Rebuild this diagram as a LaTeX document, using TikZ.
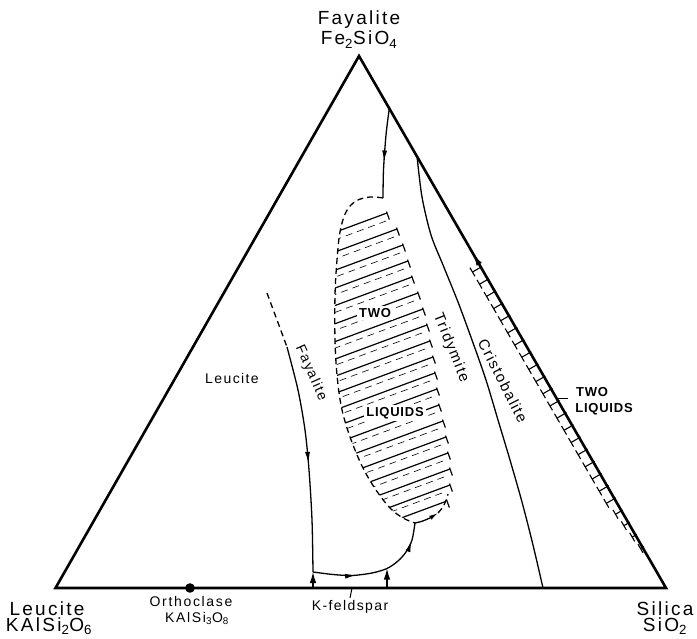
\documentclass[tikz,border=0pt]{standalone}
\usepackage{fontspec}
\setmainfont{Liberation Sans}
\newfontfamily\lab[LetterSpace=12]{Liberation Sans}
\newfontfamily\labm[LetterSpace=10]{Liberation Sans}
\newfontfamily\labb[LetterSpace=6]{Liberation Sans}
\usetikzlibrary{arrows.meta,decorations.markings,calc}
\begin{document}
\begin{tikzpicture}[x=1pt,y=-1pt,
  edgeline/.style={line width=2.6pt, line join=miter},
  bnd/.style={line width=1.3pt},
  dsh/.style={line width=1.3pt, dash pattern=on 6pt off 4pt},
  hatchl/.style={line width=1.2pt},
  faint/.style={line width=0.6pt, dash pattern=on 7pt off 5pt},
  rung/.style={line width=1.1pt},
  tip/.tip={Latex[length=11pt,width=5pt]},
  bigtip/.tip={Latex[length=11pt,width=6.5pt]},
  marrow/.style={postaction={decorate},decoration={markings,mark=at position #1 with {\arrow{tip}}}},
  big/.style={font=\lab\fontsize{19}{22}\selectfont, inner sep=0pt},
  small/.style={font=\lab\fontsize{14}{16}\selectfont, inner sep=0pt},
  med/.style={font=\labm\fontsize{14}{16}\selectfont, inner sep=1pt},
  medl/.style={font=\labm\fontsize{15}{17}\selectfont, inner sep=1pt},
  bold/.style={font=\labb\bfseries\fontsize{13}{15}\selectfont, inner sep=2pt, fill=white},
]
\useasboundingbox (0,0) rectangle (697,639);

% triangle
\coordinate (A) at (359,56);
\coordinate (L) at (55.5,588);
\coordinate (R) at (666,588);
\draw[edgeline] (A) -- (L) -- (R) -- cycle;

% corner labels
\node[big, anchor=base] (fa1) at (359,25) {Fayalite};
\node[big, anchor=base] (fa2) at (359,45) {Fe\textsubscript{2}SiO\textsubscript{4}};
\node[big, anchor=base] (le1) at (47,615) {Leucite};
\node[big, anchor=base] (le2) at (49,631) {KAlSi\textsubscript{2}O\textsubscript{6}};
\node[big, anchor=base] (si1) at (665,615) {Silica};
\node[big, anchor=base] (si2) at (665,631) {SiO\textsubscript{2}};

% orthoclase
\fill (190,588) circle (4.8pt);
\node[small, anchor=base] (or1) at (191,606) {Orthoclase};
\node[small, anchor=base] (or2) at (197,622) {KAlSi\textsubscript{3}O\textsubscript{8}};

% K-feldspar
\coordinate (kt1) at (352,588);
\coordinate (kt2) at (350,598);
\draw[line width=1pt] (kt1) -- (kt2);
\node[med] (kf) at (350,607) {K-feldspar};

% field labels
\node[med] (lc) at (232,378) {Leucite};
\node[med, rotate=-66] (fy) at (311,373) {Fayalite};
\node[medl, rotate=-68] (tr) at (451,348) {Tridymite};
\node[medl, rotate=-63] (cr) at (503,381) {Cristobalite};

% Fayalite boundary
\coordinate (F0) at (267,293);
\coordinate (F1) at (287,347);
\coordinate (J1) at (313,572);
\coordinate (B1) at (313,588);
\draw[dsh] plot[smooth] coordinates {(F0) (277,320) (F1)};
\draw[bnd, marrow=0.52] plot[smooth] coordinates {(F1) (298,390) (305,430) (309,470) (312,520) (J1)};
\draw[bnd, -{bigtip}] (B1) -- (J1);

% lower boundary
\coordinate (J2) at (387,568.5);
\coordinate (B2) at (387,588);
\coordinate (Rb) at (415,523);
\draw[bnd, postaction={decorate}, decoration={markings,
   mark=at position 0.33 with {\arrow{tip}},
   mark=at position 0.86 with {\arrow{tip}}}]
  plot[smooth] coordinates {(J1) (333,574.5) (352,575.5) (372,573) (J2) (398,561) (406,552) (412,540) (Rb)};
\draw[bnd, -{bigtip}] (B2) -- (J2);

% upper boundary into two-liquid field
\coordinate (E1) at (389.5,107);
\coordinate (T) at (383,198);
\draw[bnd, marrow=0.6] plot[smooth] coordinates {(E1) (386,135) (383.5,170) (T)};

% tridymite / cristobalite boundary
\coordinate (E2) at (417,156);
\coordinate (B3) at (543,588);
\draw[bnd] plot[smooth] coordinates {(E2) (422,197) (431,235) (443,265) (458,302) (472,340) (486,380) (498,420) (510,460) (522,502) (533,545) (B3)};

% two-liquid field (central)
\begin{scope}
  \clip plot[smooth, tension=0.6] coordinates {(383,198) (370,197) (356,201) (346,212) (340,232) (337,260) (335,295) (335,340) (337,375) (341,405) (347,428) (355,450) (364,470) (376,490) (390,508) (403,518) (415,523) (432,516) (443,506) (448,495)} -- (470,520) -- (470,190) -- cycle;
  \foreach \x/\y in {387/213,397/229,403/245,408/261,412/277,418/293,423/309,427/325,430/341,433/357,435/373,437/389,439/405,443/421,446/437,448/453,450/469,450/485,447/501}{
    \draw[hatchl] (\x,\y) -- ++(-170,63);
  }
  \foreach \x/\y in {386/221,394/237,400/253,404/269,409/285,414/301,419/317,422/333,425/349,428/365,430/381,432/397,435/413,438/429,441/445,443/461,444/477,442/493}{
    \draw[faint] (\x,\y) -- ++(-170,63);
  }
\end{scope}
\foreach \x/\y in {387/213,397/229,403/245,408/261,412/277,418/293,423/309,427/325,430/341,433/357,435/373,437/389,439/405,443/421,446/437,448/453,450/469,450/485,447/501}{
  \draw[hatchl] (\x-0.5,\y-1.4) -- (\x+2.4,\y+6.6);
}
\draw[dsh] plot[smooth, tension=0.6] coordinates {(T) (370,197) (356,201) (346,212) (340,232) (337,260) (335,295) (335,340) (337,375) (341,405) (347,428) (355,450) (364,470) (376,490) (390,508) (403,518) (Rb)};
\coordinate (Rc) at (438,513);
\draw[bnd, -{Latex[length=9pt,width=4.5pt]}] (Rb) .. controls (422,522) and (430,518) .. (Rc);
\draw[dsh] (Rc) .. controls (443,508) and (446,502) .. (448,494);
\node[bold] (tw1) at (375,313) {TWO};
\node[bold] (lq1) at (395,413) {LIQUIDS};

% two-liquid band along the silica-fayalite edge
\coordinate (G1) at ($(A)!0.39!(R)$);
\coordinate (G2) at ($(A)!0.372!(R)$);
\draw[line width=1pt, -{Latex[length=12pt,width=6pt]}] (G1) -- (G2);
\foreach \i in {0,...,23}{
  \pgfmathsetmacro\t{0.398+\i*0.0228}
  \pgfmathsetmacro\ex{359+\t*309}
  \pgfmathsetmacro\ey{54+\t*534}
  \pgfmathsetmacro\w{\i>19 ? 10-(\i-19)*1.5 : 11}
  \pgfmathsetmacro\ix{\ex-\w*0.8655}
  \pgfmathsetmacro\iy{\ey+\w*0.5008}
  \draw[rung] (\ex,\ey) -- (\ix,\iy);
  \draw[rung] (\ix-2.5,\iy-4.3) -- (\ix+2.5,\iy+4.3);
}
\coordinate (ld1) at (557,398);
\coordinate (ld2) at (568,398);
\draw[line width=0.8pt] (ld1) -- (ld2);
\node[bold, fill=none] (tw2) at (592,392) {TWO};
\node[bold, fill=none] (lq2) at (604,409) {LIQUIDS};
\end{tikzpicture}
\end{document}
